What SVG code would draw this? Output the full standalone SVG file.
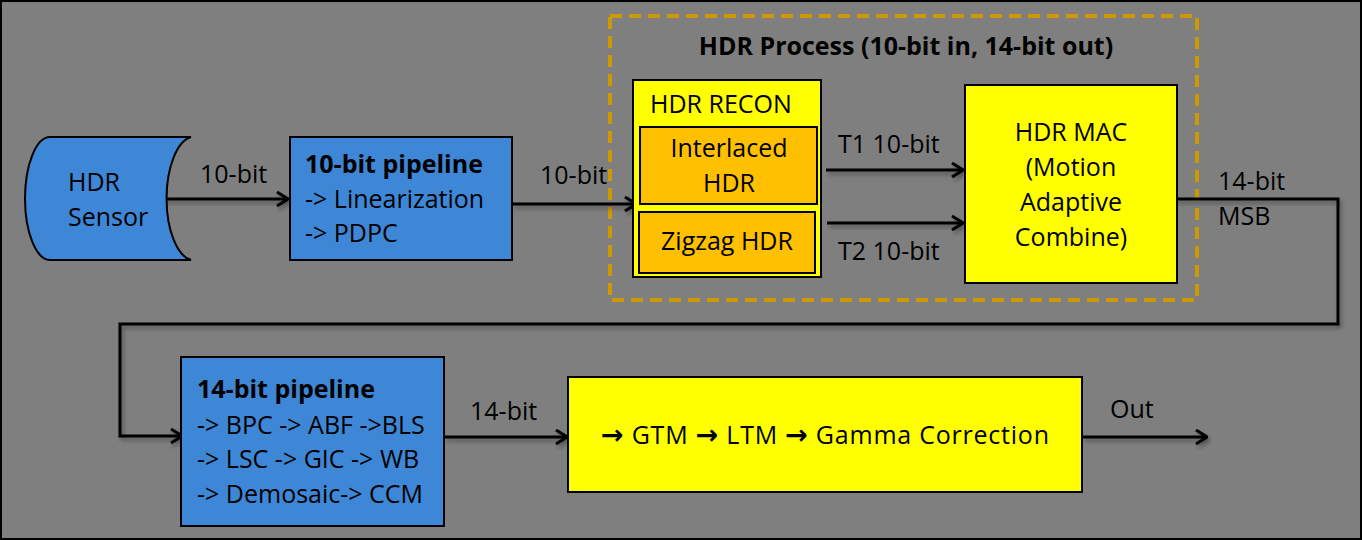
<svg xmlns="http://www.w3.org/2000/svg" width="1362" height="540" viewBox="0 0 1362 540">
<style>
text{font-family:"Open Sans","Liberation Sans",sans-serif;fill:#000;font-size:25px}
.b{font-weight:bold}
.c{text-anchor:middle}
.ar{font-family:"DejaVu Sans",sans-serif;font-weight:bold;font-size:27px}
.node{stroke:#000;stroke-width:2}
.blue{fill:#3E87D6}
.yel{fill:#FFFF00}
.org{fill:#FFC000}
.conn{fill:none;stroke:#000;stroke-width:3}
</style>
<defs>
<filter id="sh" filterUnits="userSpaceOnUse" x="0" y="0" width="1362" height="540">
<feGaussianBlur in="SourceAlpha" stdDeviation="2"/>
<feOffset dx="2" dy="3" result="o"/>
<feComponentTransfer><feFuncA type="linear" slope="0.35"/></feComponentTransfer>
<feMerge><feMergeNode/><feMergeNode in="SourceGraphic"/></feMerge>
</filter>
<marker id="arr" viewBox="0 0 14 16" refX="13" refY="8" markerWidth="14" markerHeight="16" markerUnits="userSpaceOnUse" orient="auto">
<polyline points="2,1 13,8 2,15" fill="none" stroke="#000" stroke-width="3"/>
</marker>
</defs>
<rect x="1" y="1" width="1360" height="538" fill="#7F7F7F" stroke="#000" stroke-width="2"/>

<g id="hdr-process">
<rect x="610" y="16" width="587" height="284" fill="none" stroke="#CC9900" stroke-width="4" stroke-dasharray="12 7"/>
<text class="b c" x="906" y="55" font-size="22.5">HDR Process (10-bit in, 14-bit out)</text>
</g>

<g id="connectors">
<g filter="url(#sh)">
<line class="conn" x1="163" y1="199" x2="288" y2="199" marker-end="url(#arr)"/>
<line class="conn" x1="512" y1="204" x2="636" y2="204" marker-end="url(#arr)"/>
<line class="conn" x1="826" y1="170" x2="963" y2="170" marker-end="url(#arr)"/>
<line class="conn" x1="827" y1="223" x2="963" y2="223" marker-end="url(#arr)"/>
<polyline class="conn" points="1175,199 1338,199 1338,324 120,324 120,436 182,436" marker-end="url(#arr)"/>
<line class="conn" x1="444" y1="437" x2="567" y2="437" marker-end="url(#arr)"/>
<line class="conn" x1="1082" y1="437" x2="1207" y2="437" marker-end="url(#arr)"/>
</g>
<text x="200" y="183">10-bit</text>
<text x="540" y="184">10-bit</text>
<text x="838" y="153">T1 10-bit</text>
<text x="838" y="260">T2 10-bit</text>
<text x="1218" y="190">14-bit</text>
<text x="1218" y="225">MSB</text>
<text x="470" y="420">14-bit</text>
<text x="1110" y="418">Out</text>
</g>

<g id="hdr-sensor">
<path class="node blue" d="M50,137 L191,137 A28,62 0 0 0 191,260 L50,260 A25,61.5 0 0 1 50,137 Z"/>
<text x="68" y="191">HDR</text>
<text x="68" y="226">Sensor</text>
</g>

<g id="pipe10">
<rect class="node blue" x="290" y="137" width="222" height="123"/>
<text class="b" x="305" y="173">10-bit pipeline</text>
<text x="305" y="208">-&gt; Linearization</text>
<text x="305" y="242">-&gt; PDPC</text>
</g>

<g id="hdr-recon">
<rect class="node yel" x="633" y="80" width="188" height="197"/>
<text x="650" y="113">HDR RECON</text>
</g>
<g id="interlaced">
<rect class="node org" x="640" y="127" width="177" height="77"/>
<text class="c" x="729" y="157">Interlaced</text>
<text class="c" x="729" y="192">HDR</text>
</g>
<g id="zigzag">
<rect class="node org" x="639" y="212" width="176" height="61"/>
<text class="c" x="727" y="250">Zigzag HDR</text>
</g>

<g id="hdr-mac">
<rect class="node yel" x="965" y="85" width="212" height="198"/>
<text class="c" x="1071" y="141">HDR MAC</text>
<text class="c" x="1071" y="176">(Motion</text>
<text class="c" x="1071" y="211">Adaptive</text>
<text class="c" x="1071" y="246">Combine)</text>
</g>

<g id="pipe14">
<rect class="node blue" x="181" y="357" width="263" height="169"/>
<text class="b" x="197" y="398">14-bit pipeline</text>
<text x="197" y="434">-&gt; BPC -&gt; ABF -&gt;BLS</text>
<text x="197" y="468">-&gt; LSC -&gt; GIC -&gt; WB</text>
<text x="197" y="503">-&gt; Demosaic-&gt; CCM</text>
</g>

<g id="tone">
<rect class="node yel" x="568" y="377" width="514" height="115"/>
<text x="601" y="444" textLength="448" lengthAdjust="spacing"><tspan class="ar">→</tspan> GTM <tspan class="ar">→</tspan> LTM <tspan class="ar">→</tspan> Gamma Correction</text>
</g>
</svg>
